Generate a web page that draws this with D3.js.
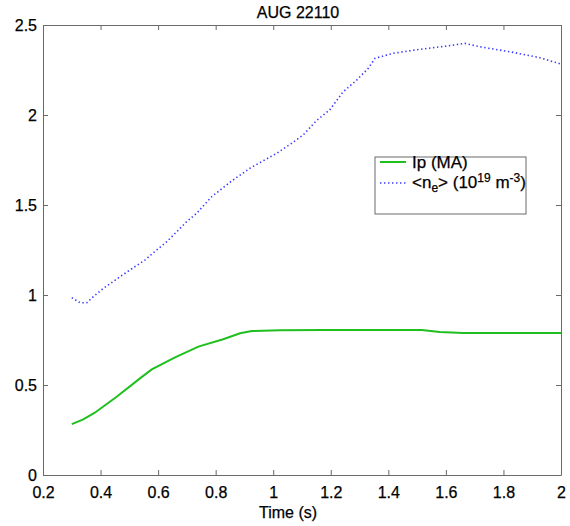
<!DOCTYPE html>
<html>
<head>
<meta charset="utf-8">
<script src="https://cdn.jsdelivr.net/npm/d3@7"></script>
<style>
  body { margin: 0; background: #fff; }
  svg { font-family: "Liberation Sans", Arial, sans-serif; }
  svg text { stroke: #000; stroke-width: 0.25px; }
  .axis path, .axis line { stroke: #6a6a6a; }
  .axis text { fill: #000; font-size: 16px; }
</style>
</head>
<body>
<script>
// Ip (MA) vs time
var ipTime = [0.30, 0.34, 0.38, 0.456, 0.537, 0.578, 0.659, 0.74, 0.826, 0.885, 0.925, 1.024, 1.174, 1.516, 1.579, 1.66, 2.0];
var ipVal  = [0.283, 0.309, 0.346, 0.435, 0.537, 0.587, 0.654, 0.713, 0.754, 0.787, 0.80, 0.804, 0.806, 0.806, 0.794, 0.789, 0.789];

// line-averaged density (1e19 m^-3) vs time
var neTime = [0.30, 0.329, 0.352, 0.375, 0.41, 0.468, 0.502, 0.554, 0.595, 0.63, 0.665, 0.699, 0.734, 0.786, 0.856, 0.919, 0.96, 1.012, 1.064, 1.104, 1.15, 1.197, 1.243, 1.29, 1.33, 1.354, 1.417, 1.51, 1.603, 1.666, 1.718, 1.834, 1.927, 2.0];
var neVal  = [0.985, 0.957, 0.957, 0.991, 1.037, 1.102, 1.139, 1.194, 1.25, 1.296, 1.352, 1.407, 1.454, 1.546, 1.634, 1.704, 1.741, 1.787, 1.843, 1.889, 1.968, 2.03, 2.129, 2.194, 2.259, 2.315, 2.343, 2.365, 2.383, 2.398, 2.379, 2.348, 2.318, 2.283];

var xTicks = [0.2, 0.4, 0.6, 0.8, 1, 1.2, 1.4, 1.6, 1.8, 2];
var yTicks = [0, 0.5, 1, 1.5, 2, 2.5];

var margin = { top: 25, right: 9, bottom: 51, left: 43 },
  width = 570 - margin.left - margin.right,
  height = 526 - margin.top - margin.bottom;

var svg = d3
  .select("body")
  .append("svg")
  .attr("width", 570)
  .attr("height", 526)
  .append("g")
  .attr("transform", "translate(" + margin.left + "," + margin.top + ")");

var x = d3.scaleLinear().domain([0.2, 2]).range([0, width]);
var y = d3.scaleLinear().domain([0, 2.5]).range([height, 0]);

var fmt = function (d) { return String(d); };

// box with inward ticks on all four sides
svg.append("g").attr("class", "axis")
  .attr("transform", "translate(0," + height + ")")
  .call(d3.axisBottom(x).tickValues(xTicks).tickFormat(fmt).tickSizeInner(-5).tickSizeOuter(0).tickPadding(12));
svg.append("g").attr("class", "axis")
  .call(d3.axisTop(x).tickValues(xTicks).tickFormat("").tickSizeInner(-5).tickSizeOuter(0));
svg.append("g").attr("class", "axis")
  .call(d3.axisLeft(y).tickValues(yTicks).tickFormat(fmt).tickSizeInner(-5).tickSizeOuter(0).tickPadding(6));
svg.append("g").attr("class", "axis")
  .attr("transform", "translate(" + width + ",0)")
  .call(d3.axisRight(y).tickValues(yTicks).tickFormat("").tickSizeInner(-5).tickSizeOuter(0));

var ipData = ipTime.map(function (t, i) { return [t, ipVal[i]]; });
var neData = neTime.map(function (t, i) { return [t, neVal[i]]; });

var line = d3.line()
  .x(function (d) { return x(d[0]); })
  .y(function (d) { return y(d[1]); });

svg.append("path")
  .datum(neData)
  .attr("d", line)
  .attr("fill", "none")
  .attr("stroke", "#3a3aff")
  .attr("stroke-width", 1.6)
  .attr("stroke-dasharray", "1.4,2.6");

svg.append("path")
  .datum(ipData)
  .attr("d", line)
  .attr("fill", "none")
  .attr("stroke", "#1fbf1f")
  .attr("stroke-width", 2);

// title and axis label
svg.append("text")
  .attr("x", width / 2 - 4)
  .attr("y", -7)
  .attr("text-anchor", "middle")
  .style("font-size", "16px")
  .text("AUG 22110");

svg.append("text")
  .attr("x", width / 2 - 14)
  .attr("y", height + 43)
  .attr("text-anchor", "middle")
  .style("font-size", "16px")
  .text("Time (s)");

// legend
var lg = svg.append("g").attr("transform", "translate(" + (375 - margin.left) + "," + (157 - margin.top) + ")");
lg.append("rect")
  .attr("width", 151).attr("height", 57)
  .attr("fill", "#fff").attr("stroke", "#6a6a6a").attr("stroke-width", 1);

lg.append("line")
  .attr("x1", 5).attr("x2", 31).attr("y1", 5).attr("y2", 5)
  .attr("stroke", "#1fbf1f").attr("stroke-width", 2);
lg.append("text")
  .attr("x", 37).attr("y", 11)
  .style("font-size", "17px")
  .text("Ip (MA)");

lg.append("line")
  .attr("x1", 5).attr("x2", 33).attr("y1", 26).attr("y2", 26)
  .attr("stroke", "#3a3aff").attr("stroke-width", 1.6).attr("stroke-dasharray", "1.4,2.6");
var t2 = lg.append("text")
  .attr("x", 37).attr("y", 31)
  .style("font-size", "17px");
t2.append("tspan").text("<n");
t2.append("tspan").attr("dy", 4).style("font-size", "12px").text("e");
t2.append("tspan").attr("dy", -4).text("> (10");
t2.append("tspan").attr("dy", -6).style("font-size", "12px").text("19");
t2.append("tspan").attr("dy", 6).text(" m");
t2.append("tspan").attr("dy", -6).style("font-size", "12px").text("-3");
t2.append("tspan").attr("dy", 6).text(")");
</script>
</body>
</html>
